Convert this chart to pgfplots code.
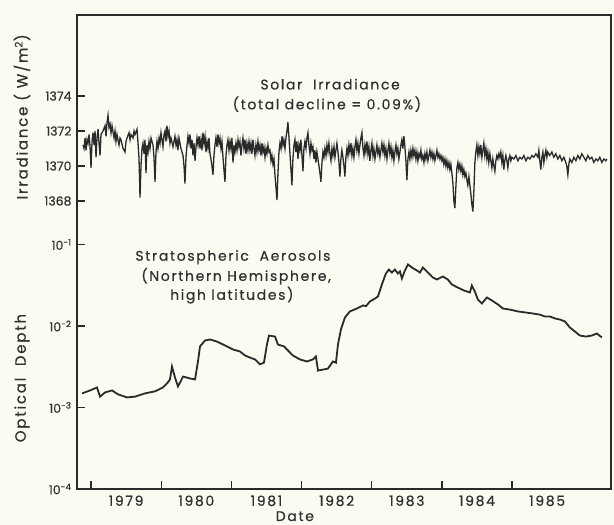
\documentclass[border=0pt]{standalone}
\usepackage{pgfplots}
\usepackage{pgfplotstable}
\pgfplotsset{compat=1.18}
\usepackage{fontspec}
\setmainfont{Poppins}[FakeBold=0.5]
\newfontfamily\spaced{Poppins}[FakeBold=0.5, LetterSpace=12]
\definecolor{bg}{HTML}{FBFBF2}
\definecolor{ink}{HTML}{2A2A2A}
\definecolor{txt}{HTML}{303030}

\pgfplotstableread{
year value
1978.886 1371.2
1978.900 1371.0
1978.915 1371.6
1978.929 1370.9
1978.943 1371.5
1978.957 1371.3
1978.972 1371.8
1978.986 1371.1
1979.000 1369.9
1979.014 1371.4
1979.028 1371.9
1979.043 1371.2
1979.057 1372.0
1979.071 1370.5
1979.085 1371.6
1979.100 1372.1
1979.114 1371.3
1979.128 1370.6
1979.142 1371.8
1979.171 1372.0
1979.199 1372.3
1979.214 1371.7
1979.228 1372.5
1979.242 1372.9
1979.256 1372.2
1979.271 1372.4
1979.285 1371.9
1979.299 1372.3
1979.328 1371.6
1979.342 1372.0
1979.356 1371.4
1979.370 1371.8
1979.399 1371.2
1979.413 1371.6
1979.427 1371.5
1979.456 1371.0
1979.484 1370.8
1979.498 1371.4
1979.513 1371.6
1979.541 1371.9
1979.556 1371.5
1979.570 1371.8
1979.598 1371.6
1979.613 1372.0
1979.627 1371.8
1979.655 1372.1
1979.670 1371.3
1979.684 1370.4
1979.698 1368.2
1979.712 1370.0
1979.726 1371.0
1979.740 1371.3
1979.755 1370.7
1979.769 1371.5
1979.783 1369.6
1979.797 1371.2
1979.812 1370.8
1979.826 1371.4
1979.840 1371.0
1979.855 1371.6
1979.883 1371.2
1979.897 1370.5
1979.912 1369.1
1979.926 1370.8
1979.940 1371.4
1979.954 1371.0
1979.969 1371.6
1979.983 1371.3
1979.997 1371.9
1980.011 1371.5
1980.025 1371.1
1980.040 1371.8
1980.054 1372.0
1980.068 1371.4
1980.082 1372.3
1980.097 1371.7
1980.111 1372.0
1980.125 1371.3
1980.140 1371.6
1980.168 1371.1
1980.196 1371.7
1980.211 1371.2
1980.225 1371.5
1980.239 1370.9
1980.253 1371.6
1980.268 1371.3
1980.282 1371.0
1980.311 1370.6
1980.325 1370.0
1980.339 1369.0
1980.353 1370.5
1980.368 1371.2
1980.382 1371.7
1980.396 1371.3
1980.410 1371.8
1980.425 1371.0
1980.439 1371.5
1980.453 1370.6
1980.467 1371.3
1980.482 1370.3
1980.496 1371.1
1980.510 1371.6
1980.524 1371.2
1980.539 1371.7
1980.553 1371.0
1980.567 1371.5
1980.581 1370.9
1980.595 1371.9
1980.610 1371.3
1980.624 1371.7
1980.638 1370.8
1980.652 1371.4
1980.667 1371.0
1980.681 1371.6
1980.695 1370.7
1980.709 1370.4
1980.723 1370.0
1980.738 1369.5
1980.752 1370.6
1980.766 1371.2
1980.780 1371.6
1980.795 1371.1
1980.809 1371.8
1980.823 1371.3
1980.837 1371.6
1980.852 1371.0
1980.866 1371.4
1980.880 1370.5
1980.894 1369.8
1980.909 1369.1
1980.923 1370.6
1980.937 1371.2
1980.951 1371.5
1980.966 1370.9
1980.980 1371.4
1980.994 1371.0
1981.008 1371.6
1981.023 1370.2
1981.037 1371.2
1981.051 1370.8
1981.065 1371.3
1981.080 1370.9
1981.094 1371.5
1981.108 1371.1
1981.122 1371.4
1981.137 1370.6
1981.151 1371.2
1981.165 1371.6
1981.179 1371.0
1981.194 1371.5
1981.208 1370.7
1981.222 1371.3
1981.236 1370.9
1981.251 1371.4
1981.265 1370.9
1981.279 1371.3
1981.293 1370.7
1981.308 1371.5
1981.322 1371.0
1981.336 1370.6
1981.350 1371.2
1981.364 1370.8
1981.379 1371.4
1981.393 1370.9
1981.407 1371.2
1981.422 1370.6
1981.436 1371.3
1981.450 1370.8
1981.464 1371.1
1981.479 1370.5
1981.493 1371.0
1981.507 1370.7
1981.521 1371.2
1981.536 1370.8
1981.550 1370.9
1981.564 1370.3
1981.578 1370.6
1981.593 1370.1
1981.607 1370.4
1981.621 1369.5
1981.635 1368.8
1981.650 1368.05
1981.664 1369.6
1981.678 1370.8
1981.692 1371.3
1981.707 1371.0
1981.721 1371.7
1981.735 1371.2
1981.749 1371.5
1981.764 1371.0
1981.778 1371.6
1981.792 1372.0
1981.806 1372.5
1981.821 1371.6
1981.835 1370.7
1981.849 1369.8
1981.863 1368.9
1981.877 1370.4
1981.892 1371.2
1981.906 1371.5
1981.920 1370.8
1981.934 1371.4
1981.949 1370.4
1981.963 1371.2
1981.977 1370.9
1981.991 1371.5
1982.006 1370.6
1982.020 1369.7
1982.034 1371.0
1982.048 1371.4
1982.063 1371.0
1982.077 1371.6
1982.091 1371.9
1982.105 1371.2
1982.120 1370.7
1982.134 1371.3
1982.148 1370.9
1982.162 1371.1
1982.177 1370.4
1982.191 1370.9
1982.205 1370.2
1982.219 1370.8
1982.234 1370.4
1982.248 1370.0
1982.262 1369.6
1982.276 1369.1
1982.291 1370.2
1982.305 1370.8
1982.319 1370.5
1982.333 1371.0
1982.348 1370.6
1982.362 1371.2
1982.376 1370.8
1982.390 1371.3
1982.405 1370.7
1982.419 1370.3
1982.433 1371.0
1982.447 1370.6
1982.462 1371.1
1982.476 1370.5
1982.490 1370.9
1982.504 1371.3
1982.519 1370.8
1982.533 1370.2
1982.547 1369.4
1982.561 1370.4
1982.575 1370.9
1982.590 1370.5
1982.604 1370.0
1982.618 1369.4
1982.632 1370.5
1982.647 1371.0
1982.661 1370.6
1982.675 1371.2
1982.689 1370.8
1982.704 1371.3
1982.718 1370.6
1982.732 1371.0
1982.746 1370.5
1982.761 1371.1
1982.775 1371.5
1982.789 1370.9
1982.803 1371.3
1982.818 1370.7
1982.832 1371.2
1982.846 1371.6
1982.860 1371.9
1982.875 1371.0
1982.889 1370.6
1982.903 1371.2
1982.917 1370.8
1982.932 1371.4
1982.946 1370.7
1982.960 1371.1
1982.974 1370.3
1982.989 1370.9
1983.003 1371.3
1983.017 1370.6
1983.031 1371.0
1983.046 1370.4
1983.060 1370.8
1983.074 1371.2
1983.088 1370.7
1983.103 1371.0
1983.117 1370.5
1983.131 1370.9
1983.145 1371.3
1983.160 1370.8
1983.174 1371.2
1983.188 1370.6
1983.202 1371.0
1983.217 1370.4
1983.231 1370.9
1983.245 1371.3
1983.259 1370.7
1983.274 1371.1
1983.288 1370.5
1983.302 1370.9
1983.316 1370.3
1983.330 1370.8
1983.345 1371.2
1983.359 1370.7
1983.373 1371.0
1983.387 1370.4
1983.402 1370.8
1983.416 1371.2
1983.430 1371.5
1983.444 1371.0
1983.459 1371.7
1983.473 1371.1
1983.487 1370.3
1983.501 1369.2
1983.516 1370.4
1983.530 1370.8
1983.544 1370.4
1983.558 1370.9
1983.573 1370.5
1983.587 1371.0
1983.601 1370.6
1983.615 1370.9
1983.630 1370.4
1983.644 1370.8
1983.658 1370.3
1983.672 1370.7
1983.687 1370.5
1983.701 1370.9
1983.715 1370.4
1983.729 1370.6
1983.744 1370.2
1983.758 1370.7
1983.772 1370.4
1983.786 1370.8
1983.801 1370.3
1983.815 1370.6
1983.829 1370.9
1983.843 1370.5
1983.858 1370.8
1983.872 1370.4
1983.886 1370.7
1983.900 1370.3
1983.915 1370.6
1983.929 1370.9
1983.943 1370.5
1983.957 1370.7
1983.972 1370.4
1983.986 1370.6
1984.000 1370.3
1984.014 1370.5
1984.028 1370.1
1984.043 1370.4
1984.057 1370.0
1984.071 1370.3
1984.085 1369.9
1984.100 1370.2
1984.114 1369.8
1984.128 1370.1
1984.142 1369.6
1984.157 1369.0
1984.171 1368.0
1984.185 1367.6
1984.199 1368.8
1984.214 1369.9
1984.228 1370.2
1984.242 1369.8
1984.256 1370.1
1984.271 1369.7
1984.285 1370.0
1984.299 1369.5
1984.313 1369.8
1984.328 1369.4
1984.342 1369.6
1984.356 1369.2
1984.370 1368.9
1984.385 1369.4
1984.399 1368.9
1984.413 1368.4
1984.427 1367.8
1984.442 1367.4
1984.456 1368.6
1984.470 1370.2
1984.484 1370.8
1984.498 1371.2
1984.513 1370.6
1984.527 1371.1
1984.541 1370.7
1984.555 1371.2
1984.570 1370.5
1984.584 1370.9
1984.598 1371.3
1984.612 1370.6
1984.627 1371.0
1984.641 1370.4
1984.655 1370.8
1984.669 1370.2
1984.684 1370.7
1984.698 1370.3
1984.712 1369.9
1984.726 1370.4
1984.741 1370.0
1984.755 1369.7
1984.769 1370.3
1984.783 1370.6
1984.798 1370.4
1984.812 1370.7
1984.826 1370.5
1984.840 1370.8
1984.855 1370.2
1984.869 1370.6
1984.883 1369.8
1984.897 1370.3
1984.912 1370.6
1984.926 1370.3
1984.940 1369.9
1984.954 1370.4
1984.969 1370.6
1984.983 1370.3
1984.997 1370.5
1985.026 1370.4
1985.054 1370.6
1985.083 1370.3
1985.111 1370.5
1985.140 1370.4
1985.168 1370.6
1985.197 1370.3
1985.225 1370.5
1985.254 1370.4
1985.282 1370.6
1985.311 1370.5
1985.339 1370.7
1985.368 1370.5
1985.382 1370.9
1985.396 1370.3
1985.410 1369.8
1985.425 1370.5
1985.439 1370.8
1985.453 1370.2
1985.467 1370.6
1985.482 1370.9
1985.496 1370.5
1985.510 1370.8
1985.538 1370.6
1985.567 1370.8
1985.595 1370.5
1985.624 1370.7
1985.652 1370.4
1985.681 1370.6
1985.709 1370.3
1985.738 1370.5
1985.766 1370.2
1985.780 1370.0
1985.795 1369.5
1985.809 1370.1
1985.823 1370.4
1985.852 1370.2
1985.880 1370.5
1985.909 1370.3
1985.937 1370.6
1985.966 1370.4
1985.994 1370.7
1986.023 1370.5
1986.051 1370.3
1986.080 1370.6
1986.108 1370.4
1986.137 1370.5
1986.165 1370.2
1986.194 1370.4
1986.222 1370.3
1986.251 1370.5
1986.279 1370.2
1986.308 1370.4
1986.336 1370.3
1986.350 1370.4
}\irradiance

\pgfplotstableread{
year value
1978.872 1.49e-3
1978.986 1.62e-3
1979.085 1.76e-3
1979.128 1.36e-3
1979.199 1.53e-3
1979.299 1.62e-3
1979.385 1.45e-3
1979.513 1.33e-3
1979.627 1.36e-3
1979.769 1.49e-3
1979.912 1.58e-3
1980.025 1.76e-3
1980.082 1.97e-3
1980.125 2.21e-3
1980.154 3.18e-3
1980.196 2.34e-3
1980.239 1.81e-3
1980.311 2.40e-3
1980.410 2.27e-3
1980.482 2.21e-3
1980.524 3.67e-3
1980.553 5.62e-3
1980.624 6.64e-3
1980.695 6.83e-3
1980.795 6.45e-3
1980.909 5.77e-3
1981.023 5.15e-3
1981.122 4.87e-3
1981.194 4.35e-3
1981.265 4.10e-3
1981.336 3.89e-3
1981.407 3.39e-3
1981.464 3.55e-3
1981.507 5.93e-3
1981.536 7.64e-3
1981.621 7.43e-3
1981.664 5.93e-3
1981.749 5.62e-3
1981.877 4.35e-3
1981.977 3.89e-3
1982.077 3.67e-3
1982.162 3.89e-3
1982.205 4.22e-3
1982.234 2.84e-3
1982.305 2.92e-3
1982.376 3.00e-3
1982.447 3.67e-3
1982.490 3.55e-3
1982.519 5.93e-3
1982.561 9.06e-3
1982.618 1.27e-2
1982.689 1.51e-2
1982.789 1.64e-2
1982.875 1.79e-2
1982.917 1.75e-2
1982.974 2.00e-2
1983.046 2.17e-2
1983.088 2.30e-2
1983.145 3.23e-2
1983.202 4.41e-2
1983.245 4.93e-2
1983.288 4.53e-2
1983.330 4.93e-2
1983.373 4.41e-2
1983.402 4.67e-2
1983.430 3.83e-2
1983.473 4.80e-2
1983.516 5.69e-2
1983.573 5.22e-2
1983.644 4.80e-2
1983.687 4.53e-2
1983.729 5.22e-2
1983.801 4.53e-2
1983.872 3.94e-2
1983.929 3.72e-2
1984.014 4.05e-2
1984.085 3.72e-2
1984.142 3.23e-2
1984.228 2.96e-2
1984.313 2.73e-2
1984.399 2.58e-2
1984.427 3.14e-2
1984.470 2.65e-2
1984.513 2.11e-2
1984.570 1.89e-2
1984.641 2.24e-2
1984.712 2.06e-2
1984.798 1.84e-2
1984.869 1.64e-2
1984.969 1.59e-2
1985.083 1.51e-2
1985.182 1.47e-2
1985.282 1.43e-2
1985.396 1.38e-2
1985.467 1.31e-2
1985.538 1.31e-2
1985.610 1.24e-2
1985.681 1.20e-2
1985.752 1.14e-2
1985.823 9.60e-3
1985.895 8.57e-3
1985.966 7.64e-3
1986.051 7.43e-3
1986.137 7.64e-3
1986.208 8.09e-3
1986.279 7.24e-3
}\aerosol

\begin{document}
\begin{tikzpicture}
\fill[bg] (-77bp,-36bp) rectangle (537bp,489bp);
\begin{axis}[
  name=low,
  at={(0,0)}, anchor=south west,
  width=534bp, height=474bp, scale only axis,
  xmin=1978.80, xmax=1986.41,
  ymode=log, ymin=1e-4, ymax=65.5,
  axis line style={ink, line width=1.8bp},
  xtick={1979,1980,1981,1982,1983,1984,1985},
  xticklabels={1979,1980,1981,1982,1983,1984,1985},
  x tick label style={xshift=35.1bp, yshift=-3bp, font=\spaced\fontsize{14}{16}\selectfont, text=txt},
  ytick={1e-4,1e-3,1e-2,1e-1},
  yticklabels={10\textsuperscript{-4},10\textsuperscript{-3},10\textsuperscript{-2},10\textsuperscript{-1}},
  y tick label style={font=\fontsize{12.5}{14}\selectfont, text=txt, xshift=-2bp},
  yminorticks=false, xminorticks=false,
  xtick pos=bottom, ytick pos=left,
  tick align=inside,
  major tick length=8bp,
  tick style={ink, line width=1.3bp},
  clip mode=individual,
]
\addplot[ink, line width=1.8bp] table[x=year, y=value] {\aerosol};
\end{axis}
\begin{axis}[
  at={(0,0)}, anchor=south west,
  width=534bp, height=474bp, scale only axis,
  xmin=1978.80, xmax=1986.41,
  ymin=1351.54, ymax=1378.63,
  axis line style={draw=none},
  xtick=\empty,
  ytick={1368,1370,1372,1374},
  y tick label style={font=\fontsize{12.5}{14}\selectfont, text=txt, xshift=-2bp},
  /pgf/number format/assume math mode=true,
  /pgf/number format/1000 sep={},
  ytick pos=left,
  tick align=inside,
  major tick length=8bp,
  tick style={ink, line width=1.3bp},
  clip mode=individual,
]
\addplot[ink, line width=1.3bp] table[x=year, y=value] {\irradiance};
\node[font=\spaced\fontsize{14}{16}\selectfont, text=txt] at (rel axis cs:0.474,0.854) {Solar\ \ Irradiance};
\node[font=\spaced\fontsize{14}{16}\selectfont, text=txt] at (rel axis cs:0.468,0.812) {(total decline = 0.09\%)};
\node[font=\spaced\fontsize{14}{16}\selectfont, text=txt] at (rel axis cs:0.292,0.489) {Stratospheric\ \ Aerosols};
\node[font=\spaced\fontsize{14}{16}\selectfont, text=txt] at (rel axis cs:0.298,0.449) {(Northern Hemisphere,};
\node[font=\spaced\fontsize{14}{16}\selectfont, text=txt] at (rel axis cs:0.290,0.409) {high latitudes)};
\node[font=\spaced\fontsize{15}{17}\selectfont, text=txt, rotate=90] at (rel axis cs:-0.103,0.785) {Irradiance ( W/m\textsuperscript{2})};
\node[font=\spaced\fontsize{15}{17}\selectfont, text=txt, rotate=90] at (rel axis cs:-0.103,0.234) {Optical\ \ Depth};
\node[font=\spaced\fontsize{14}{16}\selectfont, text=txt, anchor=base, inner sep=0pt] at (rel axis cs:0.408,-0.0675) {Date};
\end{axis}
\pgfresetboundingbox
\path[use as bounding box] (-77bp,-36bp) rectangle (537bp,489bp);
\end{tikzpicture}
\end{document}
